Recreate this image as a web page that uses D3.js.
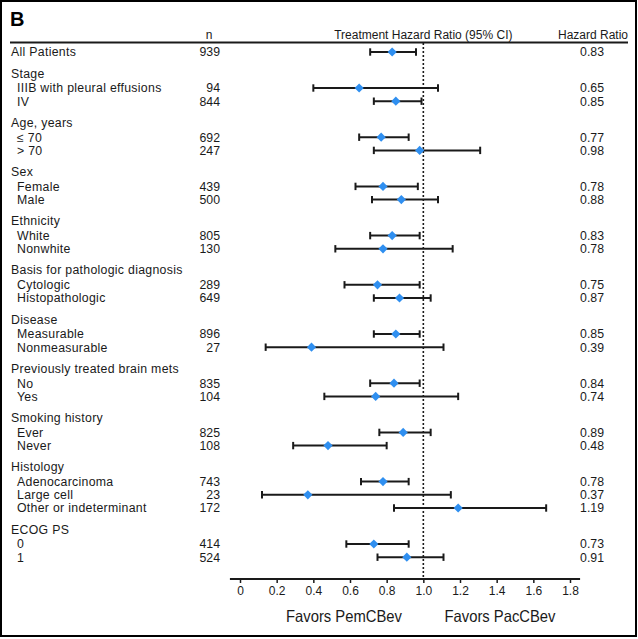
<!DOCTYPE html>
<html><head><meta charset="utf-8">
<script src="https://cdn.jsdelivr.net/npm/d3@7/dist/d3.min.js"></script>
<style>
body{margin:0;background:#fff}
text{font-family:"Liberation Sans",Arial,Helvetica,sans-serif;fill:#1a1a1a}
</style>
</head><body><svg id="c" width="638" height="639"></svg>
<script>
// ---------------- data ----------------
const groupNames = ["", "Stage", "Age, years", "Sex", "Ethnicity", "Basis for pathologic diagnosis",
  "Disease", "Previously treated brain mets", "Smoking history", "Histology", "ECOG PS"];
const itemLabels = ["All Patients", "IIIB with pleural effusions", "IV", "\u2264 70", "> 70", "Female", "Male",
  "White", "Nonwhite", "Cytologic", "Histopathologic", "Measurable", "Nonmeasurable", "No", "Yes",
  "Ever", "Never", "Adenocarcinoma", "Large cell", "Other or indeterminant", "0", "1"];
const itemGroup = [0, 1, 1, 2, 2, 3, 3, 4, 4, 5, 5, 6, 6, 7, 7, 8, 8, 9, 9, 9, 10, 10];
const nValues = [939, 94, 844, 692, 247, 439, 500, 805, 130, 289, 649, 896, 27, 835, 104, 825, 108, 743, 23, 172, 414, 524];
const hrValues = [0.83, 0.65, 0.85, 0.77, 0.98, 0.78, 0.88, 0.83, 0.78, 0.75, 0.87, 0.85, 0.39, 0.84, 0.74, 0.89, 0.48, 0.78, 0.37, 1.19, 0.73, 0.91];
const ciLower = [0.71, 0.40, 0.73, 0.65, 0.73, 0.63, 0.72, 0.71, 0.52, 0.57, 0.73, 0.73, 0.14, 0.71, 0.46, 0.76, 0.29, 0.66, 0.12, 0.84, 0.58, 0.75];
const ciUpper = [0.96, 1.08, 0.99, 0.92, 1.31, 0.97, 1.08, 0.98, 1.16, 0.98, 1.04, 0.98, 1.11, 0.98, 1.19, 1.04, 0.80, 0.92, 1.15, 1.67, 0.92, 1.11];
const tickValues = [0, 0.2, 0.4, 0.6, 0.8, 1.0, 1.2, 1.4, 1.6, 1.8];
const tickLabels = ["0", "0.2", "0.4", "0.6", "0.8", "1.0", "1.2", "1.4", "1.6", "1.8"];
const columnTitles = ["n", "Treatment Hazard Ratio (95% CI)", "Hazard Ratio"];
const favorLabels = ["Favors PemCBev", "Favors PacCBev"];
const panelLetter = "B";

// ---------------- layout ----------------
const svg = d3.select("#c");
const x = d3.scaleLinear().domain([0, 1.8]).range([240, 570]);
const blue = "#2f8ff0";

// compute row positions
const rows = []; // {type, label, idx, y}
let y = 52;
let prevGroup = -1;
itemLabels.forEach((lab, i) => {
  const g = itemGroup[i];
  if (i === 0) {
    rows.push({type: "item", top: true, label: lab, idx: i, y});
  } else if (g !== prevGroup) {
    y += 21.3;
    rows.push({type: "header", label: groupNames[g], y});
    y += 14.7;
    rows.push({type: "item", label: lab, idx: i, y});
  } else {
    y += 13.2;
    rows.push({type: "item", label: lab, idx: i, y});
  }
  prevGroup = g;
});

// border
svg.append("rect").attr("x", 1).attr("y", 1).attr("width", 635).attr("height", 635)
  .attr("fill", "none").attr("stroke", "#000").attr("stroke-width", 2);

// panel letter
svg.append("text").attr("x", 10).attr("y", 26).attr("font-size", 20).attr("font-weight", "bold")
  .style("fill", "#000").text(panelLetter);

// column titles
svg.append("text").attr("x", 209).attr("y", 39).attr("font-size", 12).attr("text-anchor", "middle").text(columnTitles[0]);
svg.append("text").attr("x", x(1)).attr("y", 39).attr("font-size", 12).attr("text-anchor", "middle").text(columnTitles[1]);
svg.append("text").attr("x", 628).attr("y", 39).attr("font-size", 12).attr("text-anchor", "end").text(columnTitles[2]);
svg.append("line").attr("x1", 10).attr("x2", 628).attr("y1", 42.5).attr("y2", 42.5)
  .attr("stroke", "#1a1a1a").attr("stroke-width", 1.8);

// reference dotted line
const axisY = 579;
svg.append("line").attr("x1", x(1)).attr("x2", x(1)).attr("y1", 43).attr("y2", axisY)
  .attr("stroke", "#1a1a1a").attr("stroke-width", 1.6).attr("stroke-dasharray", "2,2");

// labels
const lab = svg.append("g");
rows.forEach(r => {
  lab.append("text").attr("x", (r.type === "header" || r.top) ? 11 : 17).attr("y", r.y).attr("dy", "0.35em")
    .attr("font-size", 12.3).attr("letter-spacing", 0.3).text(r.label);
  if (r.type === "item") {
    lab.append("text").attr("x", 220).attr("y", r.y).attr("dy", "0.35em").attr("text-anchor", "end")
      .attr("font-size", 12.3).text(nValues[r.idx]);
    lab.append("text").attr("x", 604).attr("y", r.y).attr("dy", "0.35em").attr("text-anchor", "end")
      .attr("font-size", 12.3).text(hrValues[r.idx].toFixed(2));
  }
});

// CI bars and diamonds
const items = rows.filter(r => r.type === "item");
const bars = svg.append("g").attr("stroke", "#1a1a1a").attr("stroke-width", 2);
items.forEach(r => {
  const i = r.idx;
  bars.append("line").attr("x1", x(ciLower[i])).attr("x2", x(ciUpper[i])).attr("y1", r.y).attr("y2", r.y);
  bars.append("line").attr("x1", x(ciLower[i])).attr("x2", x(ciLower[i])).attr("y1", r.y - 3.7).attr("y2", r.y + 3.7);
  bars.append("line").attr("x1", x(ciUpper[i])).attr("x2", x(ciUpper[i])).attr("y1", r.y - 3.7).attr("y2", r.y + 3.7);
});
const sym = d3.symbol().type(d3.symbolSquare).size(42);
svg.append("g").selectAll("path").data(items).join("path")
  .attr("d", sym)
  .attr("transform", r => `translate(${x(hrValues[r.idx])},${r.y}) rotate(45)`)
  .attr("fill", blue);

// axis
const axis = d3.axisBottom(x).tickValues(tickValues).tickFormat((d, i) => tickLabels[i])
  .tickSize(4).tickPadding(3);
const ag = svg.append("g").attr("transform", `translate(0,${axisY})`).call(axis);
ag.select(".domain").remove();
ag.selectAll(".tick line").attr("stroke", "#1a1a1a").attr("stroke-width", 1.5);
ag.selectAll(".tick text").attr("font-size", 12).style("font-family", '"Liberation Sans",Arial,sans-serif').style("fill", "#1a1a1a");
ag.append("line").attr("x1", x(-0.055)).attr("x2", x(1.855)).attr("y1", 0).attr("y2", 0)
  .attr("stroke", "#1a1a1a").attr("stroke-width", 2);

// favors labels
svg.append("text").attr("x", 344).attr("y", 622).attr("font-size", 16.5).attr("text-anchor", "middle")
  .attr("textLength", 116).attr("lengthAdjust", "spacingAndGlyphs").text(favorLabels[0]);
svg.append("text").attr("x", 500).attr("y", 622).attr("font-size", 16.5).attr("text-anchor", "middle")
  .attr("textLength", 111).attr("lengthAdjust", "spacingAndGlyphs").text(favorLabels[1]);
</script>
</body></html>
